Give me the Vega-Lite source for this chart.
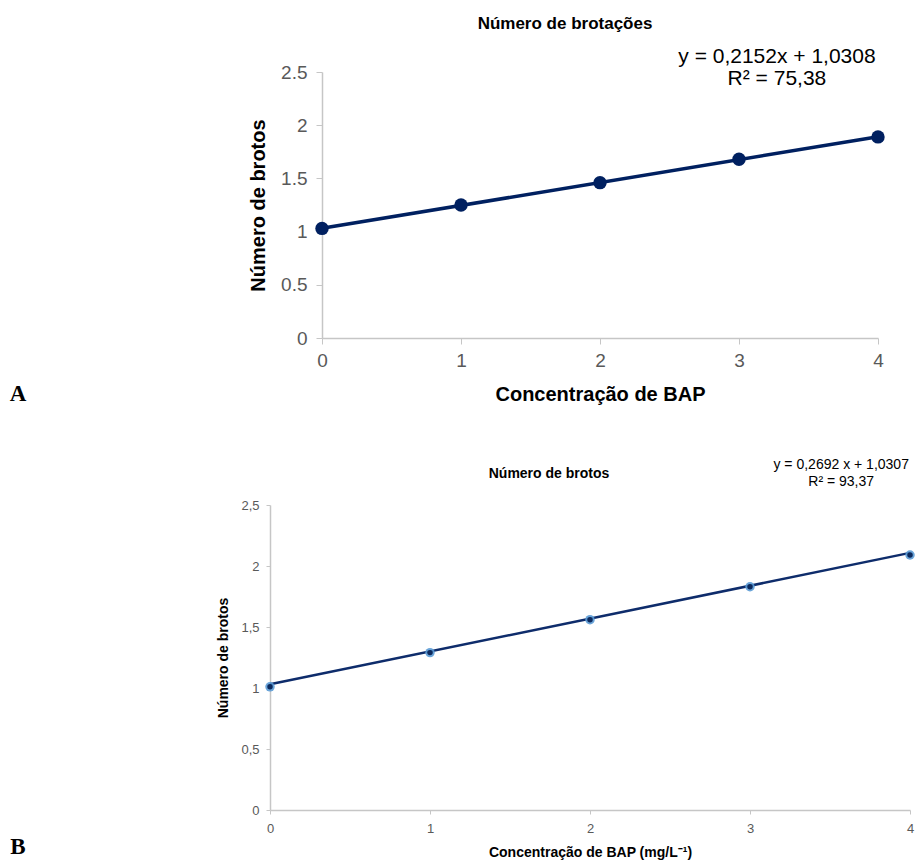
{
  "$schema": "https://vega.github.io/schema/vega-lite/v6.json",
  "autosize": "none",
  "padding": {"left": 270, "top": 72, "right": 646, "bottom": 790},
  "background": "white",
  "spacing": 51,
  "datasets": {
    "pontosA": [
      {"bap": 0, "brotos": 1.03},
      {"bap": 1, "brotos": 1.25},
      {"bap": 2, "brotos": 1.46},
      {"bap": 3, "brotos": 1.68},
      {"bap": 4, "brotos": 1.89}
    ],
    "tendenciaA": [
      {"bap": 0, "brotos": 1.0308},
      {"bap": 4, "brotos": 1.8916}
    ],
    "pontosB": [
      {"bap": 0, "brotos": 1.01},
      {"bap": 1, "brotos": 1.29},
      {"bap": 2, "brotos": 1.56},
      {"bap": 3, "brotos": 1.83},
      {"bap": 4, "brotos": 2.09}
    ],
    "tendenciaB": [
      {"bap": 0, "brotos": 1.0307},
      {"bap": 4, "brotos": 2.1075}
    ],
    "equacaoA": [{"texto": "y = 0,2152x + 1,0308\nR² = 75,38"}],
    "equacaoB": [{"texto": "y = 0,2692 x + 1,0307\nR² = 93,37"}],
    "letraA": [{"texto": "A"}],
    "letraB": [{"texto": "B"}]
  },
  "config": {
    "view": {"stroke": null},
    "axis": {
      "grid": false,
      "labelFlush": false,
      "domainColor": "#c6c6c6",
      "tickColor": "#c6c6c6",
      "labelColor": "#595959",
      "titleColor": "#000000",
      "labelFont": "Liberation Sans",
      "titleFont": "Liberation Sans",
      "titleFontWeight": "bold"
    }
  },
  "vconcat": [
    {
      "width": 608,
      "height": 266,
      "title": {
        "text": "Número de brotações",
        "font": "Liberation Sans",
        "fontSize": 17,
        "fontWeight": "bold",
        "color": "#000000",
        "dx": -9,
        "offset": 13
      },
      "layer": [
        {
          "data": {"name": "tendenciaA"},
          "mark": {"type": "line", "color": "#002060", "strokeWidth": 3.5},
          "encoding": {
            "x": {
              "field": "bap",
              "type": "quantitative",
              "scale": {"domain": [0, 4], "range": [52, 608], "nice": false, "zero": false},
              "axis": {
                "title": "Concentração de BAP",
                "values": [0, 1, 2, 3, 4],
                "format": "~g",
                "labelFontSize": 19,
                "titleFontSize": 20,
                "tickSize": 6,
                "labelPadding": 7,
                "titlePadding": 14,
                "domainWidth": 1.5
              }
            },
            "y": {
              "field": "brotos",
              "type": "quantitative",
              "scale": {"domain": [0, 2.5], "nice": false},
              "axis": {
                "title": "Número de brotos",
                "values": [0, 0.5, 1, 1.5, 2, 2.5],
                "format": "~g",
                "offset": -52,
                "labelFontSize": 19,
                "titleFontSize": 20,
                "tickSize": 6,
                "labelPadding": 9,
                "titlePadding": 12,
                "domainWidth": 1.5
              }
            }
          }
        },
        {
          "data": {"name": "pontosA"},
          "mark": {"type": "point", "filled": true, "size": 180, "color": "#002060", "opacity": 1},
          "encoding": {
            "x": {"field": "bap", "type": "quantitative"},
            "y": {"field": "brotos", "type": "quantitative"}
          }
        },
        {
          "data": {"name": "equacaoA"},
          "mark": {"type": "text", "font": "Liberation Sans", "fontSize": 21, "lineHeight": 22, "lineBreak": "\n", "align": "center", "baseline": "middle", "color": "#000000"},
          "encoding": {
            "x": {"datum": 3.273, "type": "quantitative"},
            "y": {"datum": 2.641, "type": "quantitative"},
            "text": {"field": "texto"}
          }
        },
        {
          "data": {"name": "letraA"},
          "mark": {"type": "text", "font": "Liberation Serif", "fontSize": 23, "fontWeight": "bold", "align": "center", "baseline": "middle", "color": "#000000"},
          "encoding": {
            "x": {"datum": -2.187, "type": "quantitative"},
            "y": {"datum": -0.526, "type": "quantitative"},
            "text": {"field": "texto"}
          }
        }
      ]
    },
    {
      "width": 640,
      "height": 305,
      "title": {
        "text": "Número de brotos",
        "font": "Liberation Sans",
        "fontSize": 14,
        "fontWeight": "bold",
        "color": "#000000",
        "dx": -41,
        "offset": -23
      },
      "layer": [
        {
          "data": {"name": "tendenciaB"},
          "mark": {"type": "line", "color": "#0e2c6b", "strokeWidth": 2.5},
          "encoding": {
            "x": {
              "field": "bap",
              "type": "quantitative",
              "scale": {"domain": [0, 4], "nice": false, "zero": false},
              "axis": {
                "title": "Concentração de BAP (mg/L⁻¹)",
                "values": [0, 1, 2, 3, 4],
                "format": "~g",
                "labelFontSize": 13,
                "titleFontSize": 14,
                "tickSize": 4,
                "labelPadding": 8,
                "titlePadding": 10,
                "domainWidth": 1.5
              }
            },
            "y": {
              "field": "brotos",
              "type": "quantitative",
              "scale": {"domain": [0, 2.5], "nice": false},
              "axis": {
                "title": "Número de brotos",
                "values": [0, 0.5, 1, 1.5, 2, 2.5],
                "labelExpr": "replace(format(datum.value, '~g'), '.', ',')",
                "labelFontSize": 13,
                "titleFontSize": 14,
                "tickSize": 4,
                "labelPadding": 7,
                "titlePadding": 10,
                "domainWidth": 1.5
              }
            }
          }
        },
        {
          "data": {"name": "pontosB"},
          "mark": {"type": "point", "filled": true, "size": 90, "color": "#5b9bd5", "opacity": 0.9},
          "encoding": {
            "x": {"field": "bap", "type": "quantitative"},
            "y": {"field": "brotos", "type": "quantitative"}
          }
        },
        {
          "data": {"name": "pontosB"},
          "mark": {"type": "point", "filled": true, "size": 30, "color": "#0d2a5e", "opacity": 1},
          "encoding": {
            "x": {"field": "bap", "type": "quantitative"},
            "y": {"field": "brotos", "type": "quantitative"}
          }
        },
        {
          "data": {"name": "equacaoB"},
          "mark": {"type": "text", "font": "Liberation Sans", "fontSize": 14, "lineHeight": 17, "lineBreak": "\n", "align": "center", "baseline": "middle", "color": "#000000"},
          "encoding": {
            "x": {"datum": 3.57, "type": "quantitative"},
            "y": {"datum": 2.828, "type": "quantitative"},
            "text": {"field": "texto"}
          }
        },
        {
          "data": {"name": "letraB"},
          "mark": {"type": "text", "font": "Liberation Serif", "fontSize": 23, "fontWeight": "bold", "align": "center", "baseline": "middle", "color": "#000000"},
          "encoding": {
            "x": {"datum": -1.575, "type": "quantitative"},
            "y": {"datum": -0.3, "type": "quantitative"},
            "text": {"field": "texto"}
          }
        }
      ]
    }
  ]
}
